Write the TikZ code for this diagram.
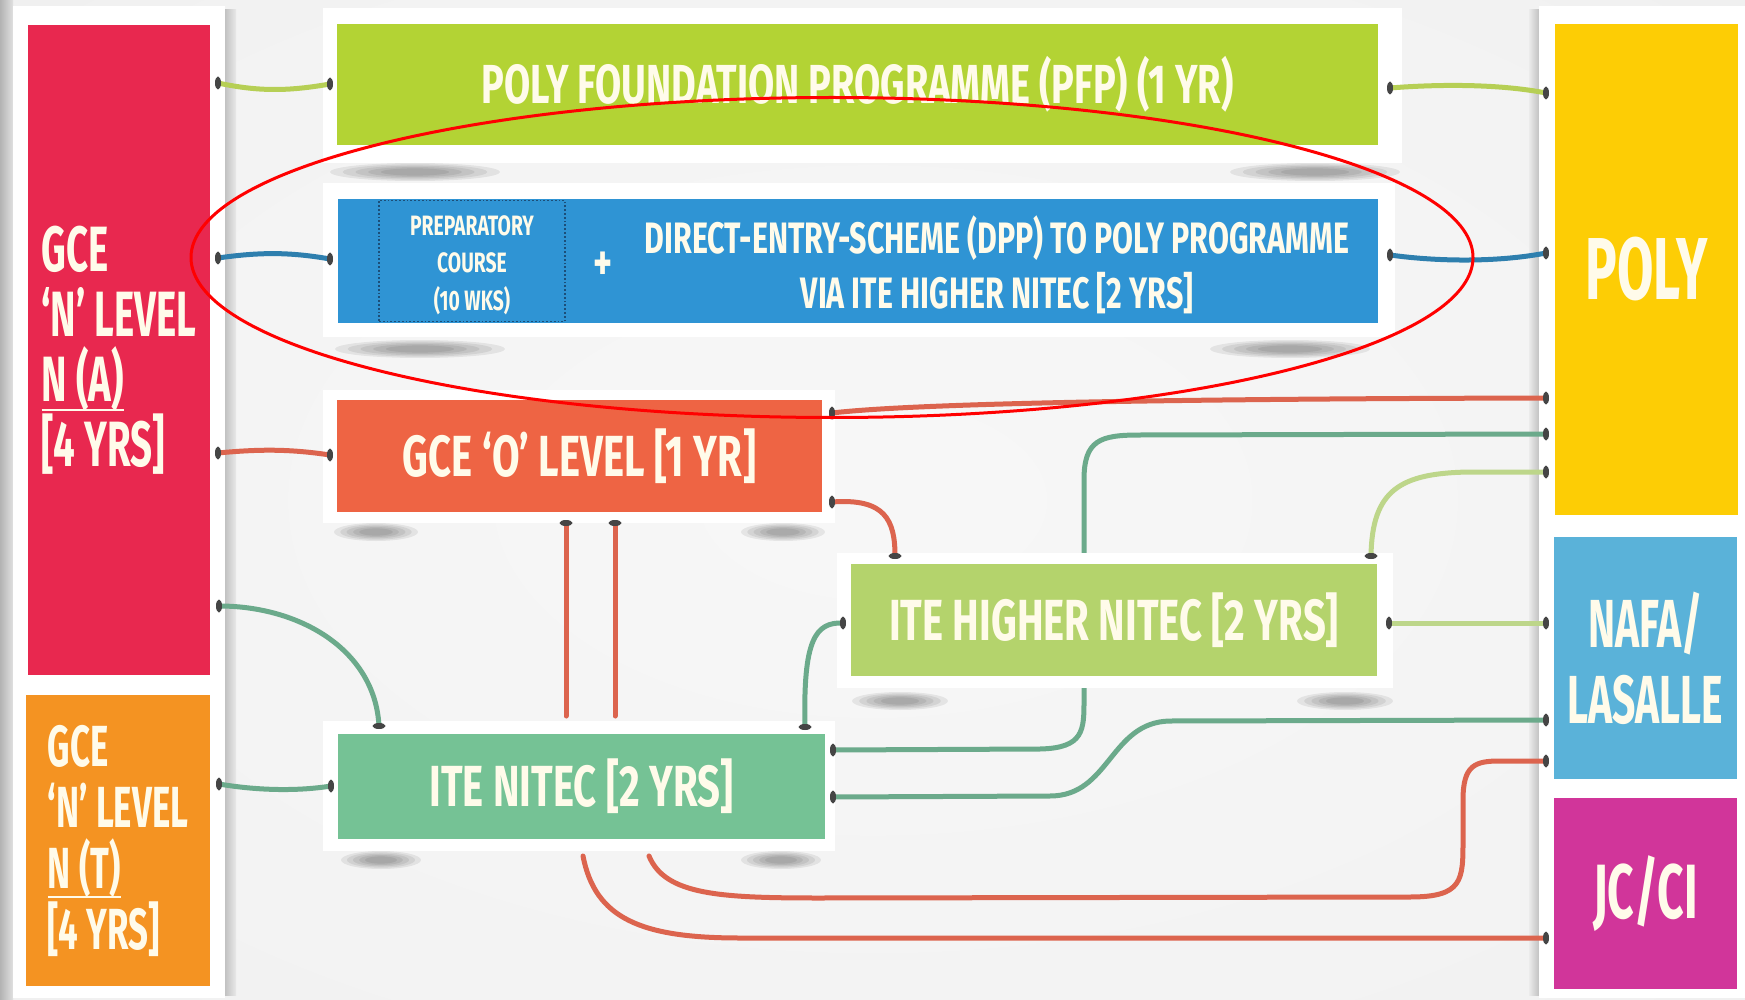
\documentclass[tikz,border=0pt]{standalone}
\usepackage{fontspec}
\newfontfamily\cf{Fira Sans}[FakeStretch=0.6]
\newfontfamily\cft{Fira Sans}[FakeStretch=0.69]
\usetikzlibrary{calc}
\definecolor{cRed}{HTML}{E8284F}
\definecolor{cOrg}{HTML}{F49322}
\definecolor{cPFP}{HTML}{B3D334}
\definecolor{cBlue}{HTML}{2F94D4}
\definecolor{cGCEO}{HTML}{EE6444}
\definecolor{cHN}{HTML}{B4D36C}
\definecolor{cNI}{HTML}{75C295}
\definecolor{cYel}{HTML}{FDCD05}
\definecolor{cNafa}{HTML}{5AB2D9}
\definecolor{cJC}{HTML}{D1359A}
\definecolor{txtc}{HTML}{FFFBEA}
\definecolor{lnLime}{HTML}{B6CF55}
\definecolor{lnBlue}{HTML}{2E7FAE}
\definecolor{lnOrg}{HTML}{DC644E}
\definecolor{lnTeal}{HTML}{6BAA8B}
\definecolor{lnPale}{HTML}{BDD68A}
\definecolor{pinc}{HTML}{454545}
\definecolor{dotc}{HTML}{1C4E78}
\pgfdeclareradialshading{bgshade}{\pgfpoint{0bp}{0bp}}{color(0bp)=(white!97!black); color(30bp)=(white!95!black); color(71bp)=(black!13)}
\newcommand\fs[2]{\cf\bfseries\fontsize{#1}{#2}\selectfont}
\newcommand\ft[2]{\cft\bfseries\fontsize{#1}{#2}\selectfont}
\newcommand\myul[1]{\setbox0=\hbox{#1}\rlap{\rule[-10pt]{\wd0}{2.2pt}}\box0}
\newcommand\pinh[1]{\fill[pinc] (#1) ellipse [x radius=3pt, y radius=6.5pt];}
\newcommand\pinv[1]{\fill[pinc] (#1) ellipse [x radius=6.5pt, y radius=3pt];}
\newcommand\softshadow[3]{%
  \foreach \k in {1.0,0.85,0.7,0.55,0.4}{%
    \fill[black,opacity=0.07] (#1,#2) ellipse [x radius=#3pt*\k, y radius=9pt*\k];}}
\begin{document}
\begin{tikzpicture}[x=1pt,y=-1pt,
  box/.style={rectangle, inner sep=0pt, outer sep=0pt, anchor=north west, text=txtc, align=center},
  txt/.style={inner sep=0pt, text=txtc, align=center},
  conn/.style={line width=5pt, line cap=round}]
\useasboundingbox (0,0) rectangle (1745,1000);
% background
\shade[shading=bgshade] (0,0) rectangle (1745,1000);
\shade[left color=black!30, right color=black!12] (0,0) rectangle (13,1000);
\shade[left color=black!24, right color=black!9] (225,10) rectangle (236,995);
\shade[left color=black!8, right color=black!24] (1529,10) rectangle (1539,995);
% white panels
\fill[white] (13,6) rectangle (225,998);
\fill[white] (1539,6) rectangle (1745,998);
\fill[white] (323,8) rectangle (1402,163);
\fill[white] (323,183) rectangle (1395,337);
\fill[white] (323,390) rectangle (835,523);
\fill[white] (323,721) rectangle (835,851);
% shadows
\softshadow{415}{172}{85}
\softshadow{1315}{172}{85}
\softshadow{420}{349}{85}
\softshadow{1290}{349}{80}
\softshadow{376}{532}{42}
\softshadow{783}{532}{42}
\softshadow{381}{860}{40}
\softshadow{781}{860}{40}
\softshadow{900}{701}{48}
\softshadow{1345}{701}{48}
% pin coordinates
\coordinate (pL1) at (218,83);  \coordinate (pR1) at (330,84);
\coordinate (pL2) at (218,258); \coordinate (pR2) at (330,259);
\coordinate (pL3) at (218,453); \coordinate (pR3) at (330,455);
\coordinate (pL4) at (219,606); \coordinate (pN4) at (379,726);
\coordinate (pL5) at (219,784); \coordinate (pR5) at (331,786);
\coordinate (pF6) at (1390,88); \coordinate (pP6) at (1546,93);
\coordinate (pB7) at (1390,255); \coordinate (pP7) at (1546,253);
\coordinate (pO8) at (832,413); \coordinate (pP8) at (1546,398);
\coordinate (pO9) at (832,502); \coordinate (pH9) at (895,556);
\coordinate (pO10) at (566,523); \coordinate (eO10) at (566,716);
\coordinate (pO11) at (615,523); \coordinate (eO11) at (615,716);
\coordinate (pN12) at (805,727); \coordinate (pH12) at (843,623);
\coordinate (pN13) at (833,750); \coordinate (pP13) at (1546,434);
\coordinate (pN14) at (833,797); \coordinate (pA14) at (1546,720);
\coordinate (pH15) at (1371,556); \coordinate (pP15) at (1546,472);
\coordinate (pH16) at (1389,623); \coordinate (pA16) at (1546,623);
\coordinate (sN17) at (649,856); \coordinate (pA17) at (1546,761);
\coordinate (sN18) at (583,856); \coordinate (pJ18) at (1546,938);
% connector hidden behind the Higher NITEC panel
\draw[conn, lnTeal] (pN13) -- (1040,749) .. controls (1084,748) and (1084,730) .. (1084,700) -- (1084,480) .. controls (1084,440) and (1100,435) .. (1140,435) -- (pP13);
\fill[white] (837,553) rectangle (1393,688);
% connectors
\draw[conn, lnLime] (pL1) .. controls (260,92) and (290,91) .. (pR1);
\draw[conn, lnBlue] (pL2) .. controls (260,252) and (290,252) .. (pR2);
\draw[conn, lnOrg] (pL3) .. controls (260,449) and (290,449) .. (pR3);
\draw[conn, lnTeal] (pL4) .. controls (300,606) and (375,650) .. (pN4);
\draw[conn, lnTeal] (pL5) .. controls (260,791) and (300,791) .. (pR5);
\draw[conn, lnLime] (pF6) .. controls (1440,84) and (1500,84) .. (pP6);
\draw[conn, lnBlue] (pB7) .. controls (1440,262) and (1500,262) .. (pP7);
\draw[conn, lnOrg] (pO8) .. controls (900,405) and (1100,399) .. (pP8);
\draw[conn, lnOrg] (pO9) .. controls (885,498) and (895,520) .. (pH9);
\draw[conn, lnOrg] (pO10) -- (eO10);
\draw[conn, lnOrg] (pO11) -- (eO11);
\draw[conn, lnTeal] (pN12) .. controls (803,640) and (815,622) .. (pH12);
\draw[conn, lnTeal] (pN14) -- (1050,796) .. controls (1110,796) and (1110,722) .. (1170,721) -- (pA14);
\draw[conn, lnPale] (pH15) .. controls (1372,490) and (1400,473) .. (1470,472) -- (pP15);
\draw[conn, lnPale] (pH16) -- (pA16);
\draw[conn, lnOrg] (sN17) .. controls (665,895) and (720,898) .. (820,898) -- (1410,897) .. controls (1463,897) and (1463,880) .. (1463,840) -- (1463,800) .. controls (1463,765) and (1475,761) .. (1500,761) -- (pA17);
\draw[conn, lnOrg] (sN18) .. controls (595,918) and (640,938) .. (740,938) -- (pJ18);
% boxes
\node[box, fill=cRed, minimum width=182pt, minimum height=650pt, align=left, font=\fs{64}{65}] (na) at (28,25) {GCE\\‘N’ LEVEL\\\myul{N (A)}\\{}[4 YRS]};
\node[box, fill=cOrg, minimum width=184pt, minimum height=291pt, align=left, font=\fs{58}{61}] (nt) at (26,695) {GCE\\‘N’ LEVEL\\\myul{N (T)}\\{}[4 YRS]};
\node[box, fill=cPFP, minimum width=1041pt, minimum height=121pt, font=\ft{55}{60}] (pfp) at (337,24) {POLY FOUNDATION PROGRAMME (PFP) (1 YR)};
\node[box, fill=cBlue, minimum width=1040pt, minimum height=124pt] (dpp) at (338,199) {};
\node[box, draw=dotc, dotted, line width=1.8pt, minimum width=186pt, minimum height=121pt] (prep) at (379,200.5) {};
\node[txt, font=\ft{28}{37.5}] (preptxt) at (472,265) {PREPARATORY\\COURSE\\(10 WKS)};
\node[txt, font=\ft{52}{52}] (plus) at (603,266) {+};
\node[txt, font=\ft{44}{55}] (dpptxt) at (997,265) {DIRECT-ENTRY-SCHEME (DPP) TO POLY PROGRAMME\\VIA ITE HIGHER NITEC [2 YRS]};
\node[box, fill=cGCEO, minimum width=485pt, minimum height=112pt, font=\ft{58}{60}] (gceo) at (337,400) {GCE ‘O’ LEVEL [1 YR]};
\node[box, fill=cHN, minimum width=526pt, minimum height=112pt, font=\ft{58}{60}] (hn) at (851,564) {ITE HIGHER NITEC [2 YRS]};
\node[box, fill=cNI, minimum width=487pt, minimum height=105pt, font=\ft{58}{60}] (ni) at (338,734) {ITE NITEC [2 YRS]};
\node[box, fill=cYel, minimum width=183pt, minimum height=491pt, font=\fs{88}{88}] (poly) at (1555,24) {POLY};
\node[box, fill=cNafa, minimum width=183pt, minimum height=242pt, font=\fs{68}{76}] (nafa) at (1554,537) {NAFA/\\LASALLE};
\node[box, fill=cJC, minimum width=183pt, minimum height=191pt, font=\fs{77}{77}] (jc) at (1554,798) {JC/CI};
% pins
\pinh{pL1}\pinh{pR1}\pinh{pL2}\pinh{pR2}\pinh{pL3}\pinh{pR3}
\pinh{pL4}\pinv{pN4}\pinh{pL5}\pinh{pR5}
\pinh{pF6}\pinh{pP6}\pinh{pB7}\pinh{pP7}
\pinh{pO8}\pinh{pP8}\pinh{pO9}\pinv{pH9}
\pinv{pO10}\pinv{pO11}
\pinv{pN12}\pinh{pH12}\pinh{pN13}\pinh{pP13}\pinh{pN14}\pinh{pA14}
\pinv{pH15}\pinh{pP15}\pinh{pH16}\pinh{pA16}\pinh{pA17}\pinh{pJ18}
% highlight ellipse
\draw[red, line width=3pt] (832,257.5) ellipse [x radius=641pt, y radius=160pt];
\end{tikzpicture}
\end{document}
